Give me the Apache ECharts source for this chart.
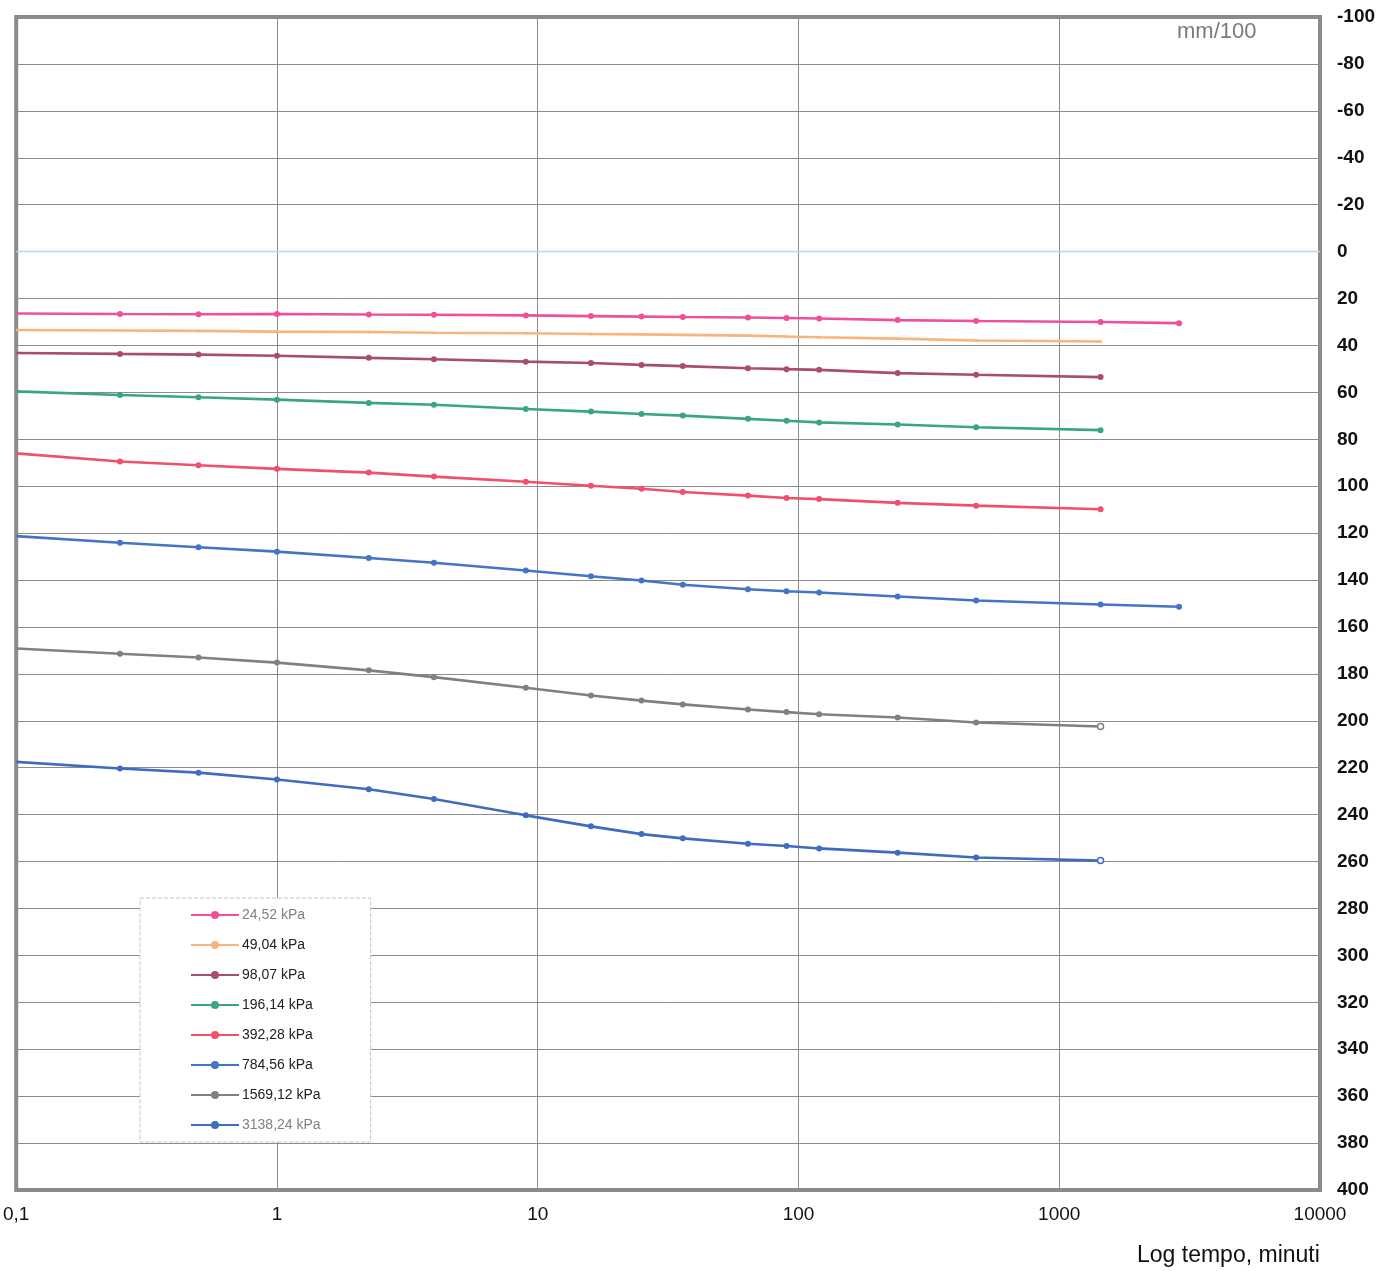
<!DOCTYPE html>
<html>
<head>
<meta charset="utf-8">
<script src="https://cdn.jsdelivr.net/npm/echarts@6/dist/echarts.min.js"></script>
<style>
html,body{margin:0;padding:0;background:#fff;}
#chart{width:1393px;height:1271px;}
</style>
</head>
<body>
<div id="chart"></div>
<script>
// Time readings (minutes)
const times = [0.1, 0.25, 0.5, 1, 2.25, 4, 9, 16, 25, 36, 64, 90, 120, 240, 480, 1440, 2880];
// Series names
const seriesNames = ['24,52 kPa', '49,04 kPa', '98,07 kPa', '196,14 kPa', '392,28 kPa', '784,56 kPa', '1569,12 kPa', '3138,24 kPa'];
// Settlement readings (mm/100)
const s24 = [26.4, 26.6, 26.7, 26.6, 26.8, 26.9, 27.2, 27.5, 27.7, 27.9, 28.1, 28.3, 28.5, 29.2, 29.6, 30.0, 30.5];
const s49 = [33.4, 33.6, 33.8, 34.1, 34.3, 34.6, 34.8, 35.1, 35.3, 35.5, 35.8, 36.2, 36.5, 37.1, 37.9, 38.3];
const s98 = [43.2, 43.6, 43.9, 44.4, 45.3, 45.9, 46.9, 47.5, 48.3, 48.8, 49.7, 50.1, 50.4, 51.8, 52.5, 53.5];
const s196 = [59.6, 61.1, 62.1, 63.1, 64.5, 65.3, 67.1, 68.2, 69.2, 69.9, 71.3, 72.1, 72.8, 73.7, 74.9, 76.1];
const s392 = [86.0, 89.5, 91.1, 92.6, 94.2, 95.9, 98.1, 99.8, 101.1, 102.5, 104.0, 105.0, 105.5, 107.1, 108.3, 109.8];
const s784 = [121.3, 124.1, 126.0, 127.9, 130.6, 132.6, 135.9, 138.4, 140.2, 142.0, 143.9, 144.8, 145.3, 147.0, 148.7, 150.4, 151.4];
const s1569 = [169.2, 171.4, 173.0, 175.2, 178.5, 181.4, 185.9, 189.2, 191.4, 193.0, 195.2, 196.3, 197.2, 198.6, 200.7, 202.4];
const s3138 = [217.5, 220.3, 222.1, 225.0, 229.2, 233.3, 240.3, 245.0, 248.3, 250.1, 252.4, 253.4, 254.4, 256.2, 258.3, 259.6];
// Axis tick labels
const xTickLabels = ['0,1', '1', '10', '100', '1000', '10000'];
const zeroLine = [[0.1, 0], [10000, 0]];

const seriesValues = [s24, s49, s98, s196, s392, s784, s1569, s3138];
const colors = ['#ef4f9b', '#f8b47c', '#a94d6c', '#3aa67e', '#f0506a', '#4474c4', '#808080', '#3f6cbf'];
const openLast = [false, false, false, false, false, false, true, true];

function buildData(vals, idx) {
  return vals.map((v, i) => {
    const item = { value: [times[i], v] };
    if (i === 0) item.symbol = 'none';
    if (openLast[idx] && i === vals.length - 1) {
      item.symbol = 'circle';
      item.itemStyle = { color: '#fff', borderColor: colors[idx], borderWidth: 1.5 };
    }
    return item;
  });
}

const series = seriesNames.map((name, k) => ({
  name: name,
  type: 'line',
  data: buildData(seriesValues[k], k),
  symbol: 'circle',
  symbolSize: k === 1 ? 3 : 6,
  lineStyle: { color: colors[k], width: 2.6 },
  itemStyle: { color: colors[k] },
  z: 3
}));
series.push({
  name: 'zero',
  type: 'line',
  data: zeroLine,
  symbol: 'none',
  silent: true,
  lineStyle: { color: '#b6d5f2', width: 1.5 },
  z: 2
});

const legendText = ['#808080', '#222', '#222', '#222', '#222', '#222', '#222', '#808080'];

const chart = echarts.init(document.getElementById('chart'), null, { renderer: 'canvas' });
chart.setOption({
  animation: false,
  backgroundColor: '#fff',
  grid: {
    left: 15, right: 73, top: 17, bottom: 81,
    show: true, borderColor: '#8a8a8a', borderWidth: 4, backgroundColor: 'transparent'
  },
  legend: {
    orient: 'vertical',
    left: 140, top: 898,
    padding: [10, 50, 10, 50],
    itemWidth: 48, itemHeight: 10, itemGap: 16,
    borderColor: '#c4c4c4', borderWidth: 1, borderType: 'dashed',
    backgroundColor: '#fff',
    data: seriesNames.map((n, i) => ({ name: n, textStyle: { color: legendText[i] } })),
    textStyle: { fontSize: 14, fontFamily: 'Liberation Sans, Arial, sans-serif', padding: [0, 0, 0, -2] }
  },
  xAxis: {
    type: 'log', logBase: 10, min: 0.1, max: 10000,
    axisLine: { show: false },
    axisTick: { show: false },
    minorTick: { show: false },
    splitLine: { show: true, lineStyle: { color: '#8c8c8c', width: 1 } },
    axisLabel: {
      margin: 15,
      fontSize: 19,
      color: '#111',
      fontFamily: 'Liberation Sans, Arial, sans-serif',
      formatter: function (v) {
        const i = Math.round(Math.log10(v)) + 1;
        return xTickLabels[i] !== undefined ? xTickLabels[i] : '';
      }
    }
  },
  yAxis: {
    type: 'value', position: 'right', inverse: true,
    min: -100, max: 400, interval: 20,
    axisLine: { show: false },
    axisTick: { show: false },
    splitLine: { show: true, lineStyle: { color: '#8c8c8c', width: 1 } },
    axisLabel: {
      margin: 17,
      fontSize: 19,
      fontWeight: 'bold',
      color: '#111',
      fontFamily: 'Liberation Sans, Arial, sans-serif'
    }
  },
  graphic: [
    { type: 'text', left: 1177, top: 21, style: { text: 'mm/100', fill: '#7a7a7a', font: '22px "Liberation Sans", Arial, sans-serif' } },
    { type: 'text', left: 1137, top: 1244, style: { text: 'Log tempo, minuti', fill: '#111', font: '23px "Liberation Sans", Arial, sans-serif' } }
  ],
  series: series
});
</script>
</body>
</html>
